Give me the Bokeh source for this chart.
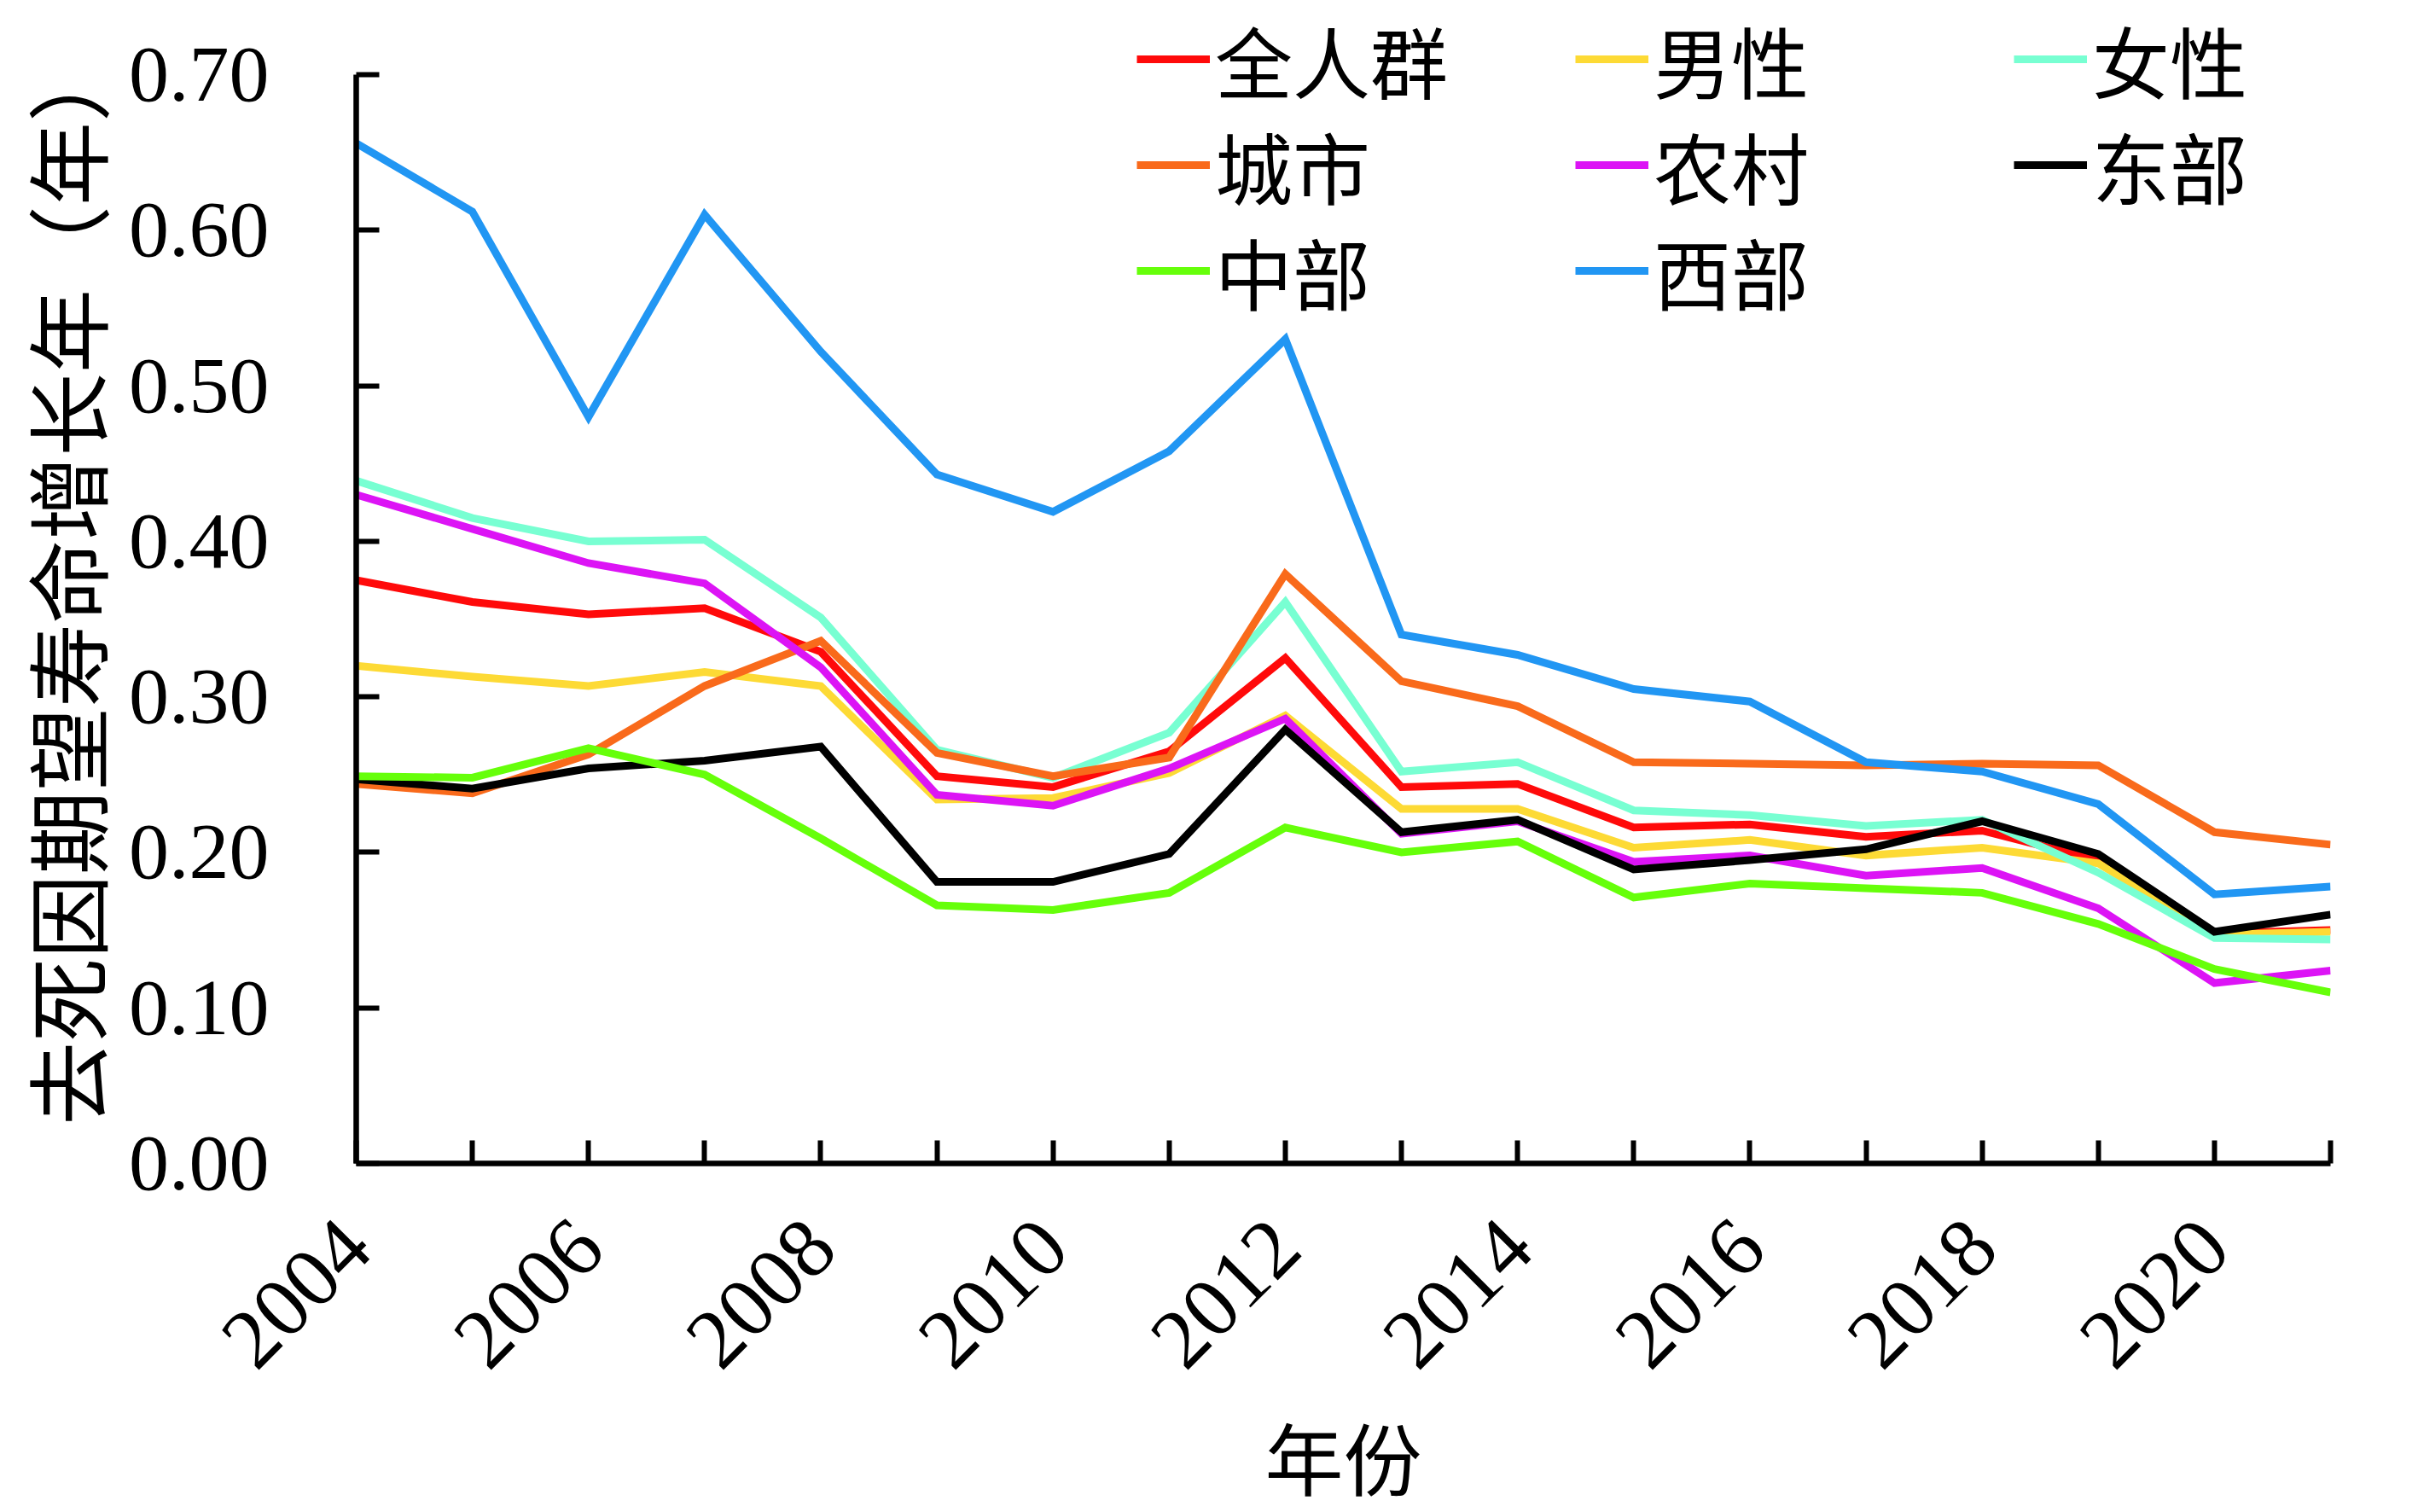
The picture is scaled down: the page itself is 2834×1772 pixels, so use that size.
import math
from bokeh.plotting import figure
from bokeh.models import (Range1d, FixedTicker, PrintfTickFormatter, Legend, LegendItem)
from bokeh.embed import file_html
from bokeh.resources import INLINE

years = list(range(2004, 2022))
x_tick_labels = [2004, 2006, 2008, 2010, 2012, 2014, 2016, 2018, 2020]
x_minor = [2005, 2007, 2009, 2011, 2013, 2015, 2017, 2019, 2021]
y_ticks = [0.0, 0.1, 0.2, 0.3, 0.4, 0.5, 0.6, 0.7]

all_pop = [0.375, 0.361, 0.353, 0.357, 0.329, 0.249, 0.242, 0.265, 0.325, 0.242, 0.244, 0.216, 0.218, 0.210, 0.214, 0.195, 0.148, 0.150]
male    = [0.320, 0.313, 0.307, 0.316, 0.307, 0.234, 0.235, 0.251, 0.288, 0.228, 0.228, 0.203, 0.208, 0.198, 0.203, 0.193, 0.147, 0.149]
female  = [0.439, 0.415, 0.400, 0.401, 0.351, 0.266, 0.248, 0.277, 0.361, 0.252, 0.258, 0.227, 0.224, 0.217, 0.221, 0.187, 0.145, 0.144]
urban   = [0.244, 0.238, 0.263, 0.307, 0.336, 0.264, 0.249, 0.261, 0.379, 0.310, 0.294, 0.258, 0.257, 0.256, 0.257, 0.256, 0.213, 0.205]
rural   = [0.430, 0.408, 0.386, 0.373, 0.319, 0.237, 0.230, 0.254, 0.286, 0.212, 0.220, 0.194, 0.198, 0.185, 0.190, 0.164, 0.116, 0.124]
east    = [0.247, 0.241, 0.254, 0.259, 0.268, 0.181, 0.181, 0.199, 0.279, 0.213, 0.221, 0.189, 0.195, 0.202, 0.220, 0.199, 0.149, 0.160]
central = [0.249, 0.248, 0.267, 0.250, 0.209, 0.166, 0.163, 0.174, 0.216, 0.200, 0.207, 0.171, 0.180, 0.177, 0.174, 0.154, 0.125, 0.110]
west    = [0.656, 0.612, 0.480, 0.610, 0.522, 0.443, 0.419, 0.458, 0.530, 0.340, 0.327, 0.305, 0.297, 0.258, 0.252, 0.231, 0.173, 0.178]

series_names = ["全人群", "男性", "女性", "城市", "农村", "东部", "中部", "西部"]
series_values = [all_pop, male, female, urban, rural, east, central, west]
series_colors = ["#FF0A0A", "#FDDA35", "#78FFD2", "#F96A1B", "#DC14F5", "#000000", "#66FF0A", "#2196F3"]

CJK = "Noto Sans CJK SC"
SERIF = "Liberation Serif"

# frame extends above 0.70 so that the legend (drawn above the top tick) is not clipped
p = figure(frame_width=2314, frame_height=1363,
           min_border_left=410, min_border_top=0, min_border_right=86, min_border_bottom=370,
           x_range=Range1d(2004, 2021), y_range=Range1d(0, 0.7478),
           output_backend="svg", toolbar_location=None, background_fill_color="white")
p.outline_line_color = None
p.xgrid.visible = False
p.ygrid.visible = False

renderers = []
for name, vals, col in zip(series_names, series_values, series_colors):
    r = p.line(years, vals, line_width=9, line_color=col, line_join="miter")
    renderers.append(r)

for ax in (p.xaxis[0], p.yaxis[0]):
    ax.axis_line_width = 6.5
    ax.axis_line_color = "black"
    ax.major_tick_line_width = 6
    ax.major_tick_line_color = "black"
    ax.major_tick_in = 27
    ax.major_tick_out = 0
    ax.major_label_text_font = SERIF
    ax.major_label_text_color = "black"
    ax.axis_label_text_font = CJK
    ax.axis_label_text_font_style = "normal"
    ax.axis_label_text_color = "black"
    ax.axis_label_text_font_size = "92px"

p.xaxis.ticker = FixedTicker(ticks=x_tick_labels, minor_ticks=x_minor)
p.xaxis.minor_tick_line_width = 6
p.xaxis.minor_tick_line_color = "black"
p.xaxis.minor_tick_in = 27
p.xaxis.minor_tick_out = 0
p.xaxis.major_label_orientation = math.pi / 4
p.xaxis.major_label_text_font_size = "99px"
p.xaxis.major_label_standoff = 82
p.xaxis.axis_label = "年份"
p.xaxis.axis_label_standoff = 5

p.yaxis.ticker = FixedTicker(ticks=y_ticks)
p.yaxis.bounds = (0, 0.70)
p.yaxis.formatter = PrintfTickFormatter(format="%.2f")
p.yaxis.major_label_text_font_size = "94px"
p.yaxis.major_label_standoff = 102
p.yaxis.axis_label = "去死因期望寿命增长年（年）"
p.yaxis.axis_label_text_font_size = "98px"
p.yaxis.axis_label_standoff = 2

rows = [[0, 1, 2], [3, 4, 5], [6, 7]]
row_bottoms = [1228, 1104, 980]
for row, yb in zip(rows, row_bottoms):
    items = [LegendItem(label=series_names[i], renderers=[renderers[i]]) for i in row]
    lg = Legend(items=items, location=(915, yb), orientation="horizontal",
                glyph_width=86, glyph_height=10, label_standoff=6,
                label_width=402, label_height=100, spacing=20, padding=0, margin=0,
                label_text_font=CJK, label_text_font_size="91px", label_text_color="black",
                border_line_alpha=0, background_fill_alpha=0)
    p.add_layout(lg, "center")

open("out.html", "w").write(file_html(p, INLINE))
